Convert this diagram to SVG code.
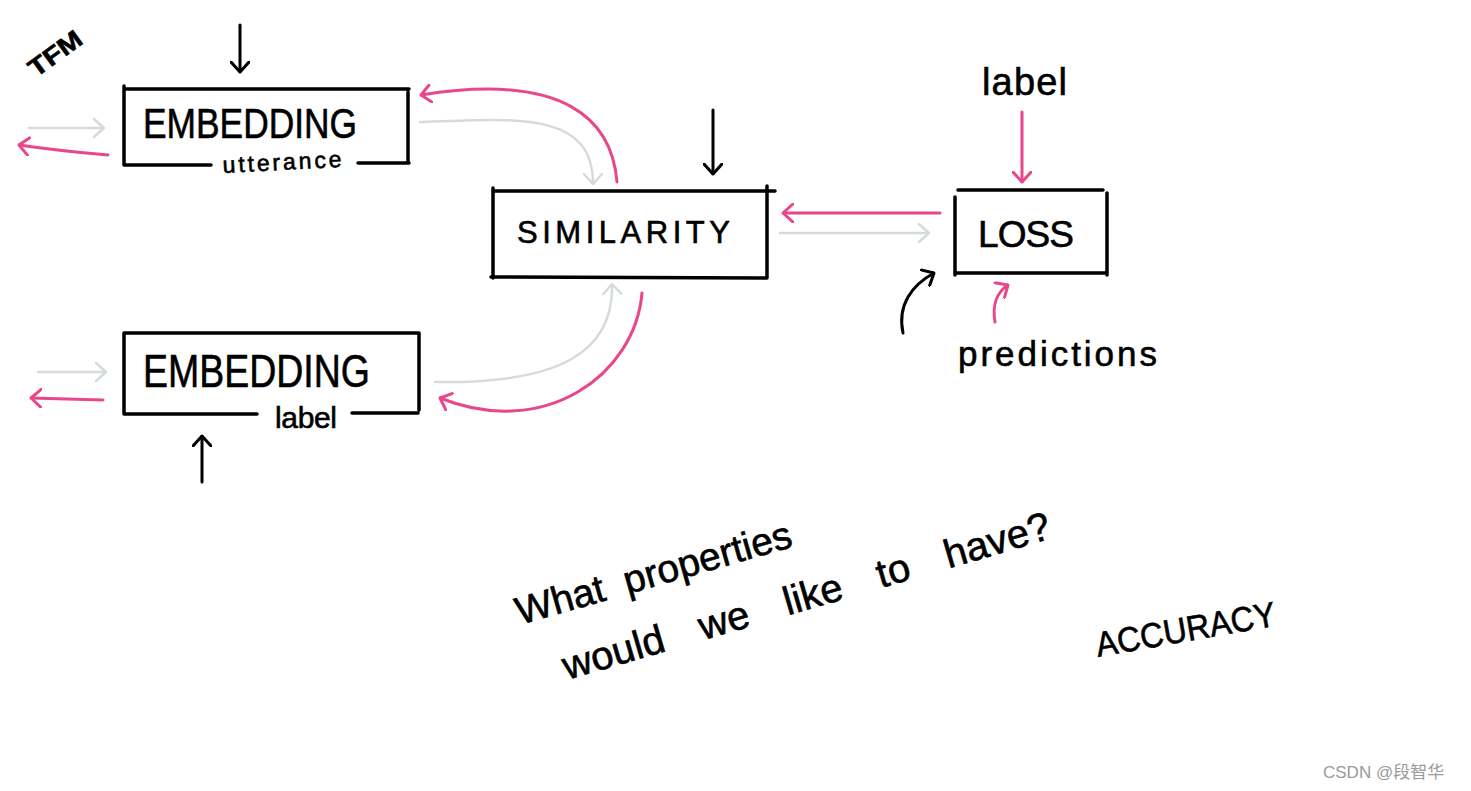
<svg xmlns="http://www.w3.org/2000/svg" width="1471" height="791" viewBox="0 0 1471 791">
<defs>
<style>
.box{fill:none;stroke:#000;stroke-width:3.5;stroke-linecap:round}
.t{font-family:"Liberation Sans","DejaVu Sans",sans-serif;fill:#000;stroke:#000;stroke-width:0.6}
.pk{fill:none;stroke:#e8478c;stroke-width:3;stroke-linecap:round}
.gy{fill:none;stroke:#d5dbdb;stroke-width:2.5;stroke-linecap:round}
.bk{fill:none;stroke:#000;stroke-width:3;stroke-linecap:round}
</style>
<marker id="mp" viewBox="0 0 12 20" refX="11" refY="10" markerWidth="12" markerHeight="20" markerUnits="userSpaceOnUse" orient="auto"><path d="M1,1 L11,10 L1,19" fill="none" stroke="#e8478c" stroke-width="3" stroke-linecap="round" stroke-linejoin="round"/></marker>
<marker id="mg" viewBox="0 0 12 20" refX="11" refY="10" markerWidth="12" markerHeight="20" markerUnits="userSpaceOnUse" orient="auto"><path d="M1,1 L11,10 L1,19" fill="none" stroke="#d5dbdb" stroke-width="2.5" stroke-linecap="round" stroke-linejoin="round"/></marker>
<marker id="mb" viewBox="0 0 12 20" refX="11" refY="10" markerWidth="12" markerHeight="20" markerUnits="userSpaceOnUse" orient="auto"><path d="M1,1 L11,10 L1,19" fill="none" stroke="#000" stroke-width="3" stroke-linecap="round" stroke-linejoin="round"/></marker>
</defs>
<rect width="1471" height="791" fill="#fff"/>

<g id="tfm"><text class="t" x="36" y="78" font-size="25" font-weight="bold" textLength="60" lengthAdjust="spacingAndGlyphs" transform="rotate(-36 36 78)">TFM</text></g>

<g id="embedding-utterance">
<path class="box" d="M124,89 L409,89 M124,86 L124,165 M408,92 L408,162 M124,165 L211,165 M358,163 L409,163"/>
<text class="t" x="143" y="138" font-size="42" textLength="214" lengthAdjust="spacingAndGlyphs">EMBEDDING</text>
<text class="t" x="223" y="173" font-size="23" stroke-width="0.2" textLength="119" lengthAdjust="spacing" transform="rotate(-3 223 173)">utterance</text>
</g>

<g id="embedding-label">
<path class="box" d="M124,333 L419,333 M124,333 L124,414 M419,333 L419,410 M124,414 L257,414 M352,413 L418,413"/>
<text class="t" x="143" y="387" font-size="46" textLength="227" lengthAdjust="spacingAndGlyphs">EMBEDDING</text>
<text class="t" x="275" y="428" font-size="30" stroke-width="0.2" textLength="62" lengthAdjust="spacing">label</text>
</g>

<g id="similarity">
<path class="box" d="M493,191 L775,191 M493,188 L493,278 M767,186 L767,278 M491,277 L767,278"/>
<text class="t" x="517" y="243" font-size="31" textLength="213" lengthAdjust="spacing">SIMILARITY</text>
</g>

<g id="loss">
<path class="box" d="M958,190 L1103,190 M955,197 L955,275 M1107,193 L1107,275 M955,273 L1107,273"/>
<text class="t" x="978" y="247" font-size="37" textLength="96" lengthAdjust="spacing">LOSS</text>
</g>

<g id="label-input"><text class="t" x="982" y="95" font-size="38" stroke-width="0.3" textLength="85" lengthAdjust="spacing">label</text></g>
<g id="predictions-input"><text class="t" x="958" y="366" font-size="35" stroke-width="0.3" textLength="199" lengthAdjust="spacing">predictions</text></g>

<g id="question">
<text class="t" x="520" y="625" font-size="39" stroke-width="0.3" word-spacing="10" transform="rotate(-16 520 625)">What properties</text>
<text class="t" x="567" y="680" font-size="40" stroke-width="0.3" word-spacing="26" transform="rotate(-16.3 567 680)">would we like to have?</text>
</g>
<g id="accuracy"><text class="t" x="1098" y="657" font-size="35" textLength="182" lengthAdjust="spacingAndGlyphs" transform="rotate(-10 1098 657)">ACCURACY</text></g>

<g id="connectors">
<path class="bk" marker-end="url(#mb)" d="M240,25 L240,72"/>
<path class="gy" marker-end="url(#mg)" d="M29,128 L104,128"/>
<path class="pk" marker-end="url(#mp)" d="M108,155 Q60,151 19,145"/>
<path class="gy" marker-end="url(#mg)" d="M38,372 L106,372"/>
<path class="pk" marker-end="url(#mp)" d="M103,400 L31,398"/>
<path class="bk" marker-end="url(#mb)" d="M202,482 L202,436"/>
<path class="bk" marker-end="url(#mb)" d="M713,110 L713,174"/>
<path class="pk" marker-end="url(#mp)" d="M617,182 C612,120 565,72 421,95"/>
<path class="gy" marker-end="url(#mg)" d="M420,122 C520,118 593,112 593,184"/>
<path class="gy" marker-end="url(#mg)" d="M435,382 C560,384 614,352 612,284"/>
<path class="pk" marker-end="url(#mp)" d="M642,293 C635,375 545,440 440,398"/>
<path class="pk" marker-end="url(#mp)" d="M940,213 L783,213"/>
<path class="gy" marker-end="url(#mg)" d="M780,233 L929,233"/>
<path class="pk" marker-end="url(#mp)" d="M1022,112 L1022,182"/>
<path class="bk" marker-end="url(#mb)" d="M903,333 C897,305 912,285 934,273"/>
<path class="pk" marker-end="url(#mp)" d="M995,322 C992,305 997,292 1008,285"/>
</g>

<g id="watermark"><text x="1323" y="778" font-size="17" fill="#9a9a9a" font-family="Liberation Sans,'Noto Sans CJK SC',sans-serif">CSDN @段智华</text></g>
</svg>
